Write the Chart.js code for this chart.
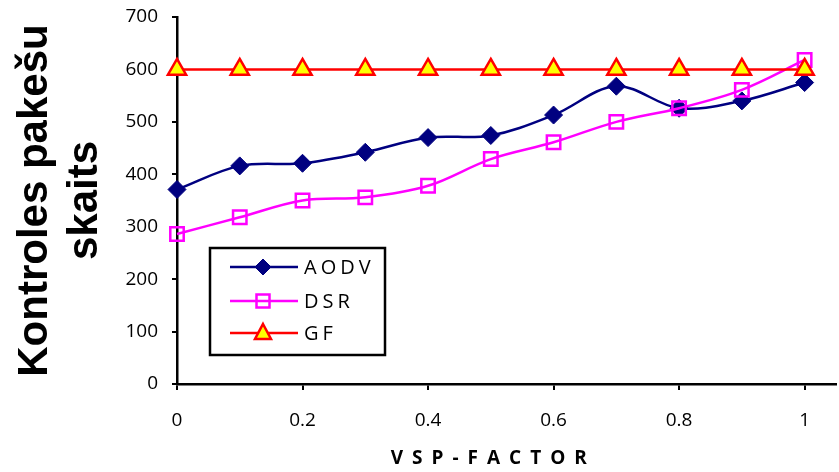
<!DOCTYPE html>
<html>
<head>
<meta charset="utf-8">
<script src="https://cdn.jsdelivr.net/npm/chart.js@4.4.1/dist/chart.umd.min.js"></script>
<style>
  html, body { margin: 0; padding: 0; background: #fff; }
  #wrap { width: 839px; height: 472px; position: relative; }
</style>
</head>
<body>
<div id="wrap"><canvas id="c" width="839" height="472"></canvas></div>
<script>
// ---- data ----
const xValues = [0, 0.1, 0.2, 0.3, 0.4, 0.5, 0.6, 0.7, 0.8, 0.9, 1];
const aodvValues = [371, 416, 421, 442, 470, 474, 513, 568, 526, 540, 575];
const dsrValues  = [286, 318, 350, 356, 378, 429, 461, 500, 526, 561, 618];
const gfValues   = [600, 600, 600, 600, 600, 600, 600, 600, 600, 600, 600];
const seriesNames = ['AODV', 'DSR', 'GF'];
const yTitleLines = ['Kontroles pakešu', 'skaits'];
const xTitleText = 'VSP-FACTOR';

function pts(vals) { return xValues.map((x, i) => ({ x: x, y: vals[i] })); }

const NAVY = '#000080', MAGENTA = '#FF00FF', RED = '#FF0000', YELLOW = '#FFFF00';
const TICK_FONT = { family: "'Open Sans', sans-serif", size: 19 };

function drawMarker(ctx, type, x, y) {
  ctx.save();
  if (type === 'diamond') {
    ctx.beginPath();
    ctx.moveTo(x, y - 8); ctx.lineTo(x + 8, y); ctx.lineTo(x, y + 8); ctx.lineTo(x - 8, y); ctx.closePath();
    ctx.fillStyle = NAVY; ctx.fill();
    ctx.strokeStyle = NAVY; ctx.lineWidth = 1; ctx.stroke();
  } else if (type === 'square') {
    ctx.strokeStyle = MAGENTA; ctx.lineWidth = 2.5;
    ctx.strokeRect(x - 6.5, y - 6.5, 13, 13);
  } else {
    ctx.beginPath();
    ctx.moveTo(x, y - 9); ctx.lineTo(x + 8, y + 6); ctx.lineTo(x - 8, y + 6); ctx.closePath();
    ctx.fillStyle = YELLOW; ctx.fill();
    ctx.strokeStyle = RED; ctx.lineWidth = 2.5; ctx.lineJoin = 'miter'; ctx.stroke();
  }
  ctx.restore();
}

function noPad(s) { s.paddingTop = 0; s.paddingBottom = 0; s.paddingLeft = 0; s.paddingRight = 0; }

const extras = {
  id: 'extras',
  afterDraw(chart) {
    const ctx = chart.ctx;
    const ca = chart.chartArea;
    const xs = chart.scales.x;
    // legend box
    const bx = ca.left + 33, by = ca.top + 231, bw = 175, bh = 107;
    ctx.save();
    ctx.fillStyle = '#fff';
    ctx.fillRect(bx, by, bw, bh);
    ctx.strokeStyle = '#000'; ctx.lineWidth = 2.5;
    ctx.strokeRect(bx, by, bw, bh);
    const markers = ['diamond', 'square', 'triangle'];
    const rowsY = [by + 19, by + 53, by + 85];
    chart.data.datasets.forEach((ds, i) => {
      const yy = rowsY[i];
      ctx.strokeStyle = ds.borderColor; ctx.lineWidth = 2.5;
      ctx.beginPath(); ctx.moveTo(bx + 20, yy); ctx.lineTo(bx + 88, yy); ctx.stroke();
      drawMarker(ctx, markers[i], bx + 53, yy);
      ctx.fillStyle = '#000';
      ctx.font = "20px 'Open Sans', sans-serif";
      ctx.textBaseline = 'middle'; ctx.textAlign = 'left';
      if ('letterSpacing' in ctx) ctx.letterSpacing = '4px';
      ctx.fillText(ds.label, bx + 94, yy + 1);
      if ('letterSpacing' in ctx) ctx.letterSpacing = '0px';
    });
    // x axis title
    ctx.font = "bold 19px 'Open Sans', sans-serif";
    const sp = 9;
    if ('letterSpacing' in ctx) ctx.letterSpacing = sp + 'px';
    const w = ctx.measureText(xTitleText).width - sp;
    const cx = (xs.getPixelForValue(0) + xs.getPixelForValue(1)) / 2 - 2;
    ctx.textAlign = 'left'; ctx.textBaseline = 'alphabetic'; ctx.fillStyle = '#000';
    ctx.fillText(xTitleText, cx - w / 2, 464);
    if ('letterSpacing' in ctx) ctx.letterSpacing = '0px';
    ctx.restore();
  }
};

new Chart(document.getElementById('c'), {
  type: 'line',
  data: {
    datasets: [
      { label: seriesNames[0], data: pts(aodvValues), borderColor: NAVY, backgroundColor: NAVY,
        borderWidth: 2.5, tension: 0.35, pointStyle: 'rectRot', pointRadius: 9,
        pointBackgroundColor: NAVY, pointBorderColor: NAVY, pointBorderWidth: 1, order: 3, clip: 20 },
      { label: seriesNames[1], data: pts(dsrValues), borderColor: MAGENTA, backgroundColor: 'rgba(0,0,0,0)',
        borderWidth: 2.5, tension: 0.35, pointStyle: 'rect', pointRadius: 9.5,
        pointBackgroundColor: 'rgba(0,0,0,0)', pointBorderColor: MAGENTA, pointBorderWidth: 2.5, order: 2, clip: 20 },
      { label: seriesNames[2], data: pts(gfValues), borderColor: RED, backgroundColor: YELLOW,
        borderWidth: 2.5, tension: 0, pointStyle: 'triangle', pointRadius: 10.5,
        pointBackgroundColor: YELLOW, pointBorderColor: RED, pointBorderWidth: 2.5, order: 1, clip: 20 }
    ]
  },
  options: {
    responsive: false,
    animation: false,
    devicePixelRatio: 1,
    layout: { autoPadding: false, padding: { top: 17, right: 3, bottom: 0, left: 0 } },
    plugins: { legend: { display: false }, tooltip: { enabled: false }, title: { display: false } },
    scales: {
      x: {
        type: 'linear', min: 0, max: 1.05,
        ticks: { stepSize: 0.2, includeBounds: false, color: '#000', font: TICK_FONT, padding: 19,
                 maxRotation: 0, autoSkip: false,
                 callback: (v) => (Math.round(v * 10) / 10).toString() },
        grid: { drawOnChartArea: false, drawTicks: true, tickLength: 6, color: '#000', lineWidth: 2 },
        border: { display: true, color: '#000', width: 2.5 },
        afterFit: (s) => { s.height = 88; noPad(s); }
      },
      y: {
        type: 'linear', min: 0, max: 700,
        ticks: { stepSize: 100, color: '#000', font: TICK_FONT, padding: 14 },
        grid: { drawOnChartArea: false, drawTicks: true, tickLength: 5, color: '#000', lineWidth: 2 },
        border: { display: true, color: '#000', width: 2.5 },
        title: { display: true, text: yTitleLines, color: '#000',
                 font: { family: "'Liberation Sans', Arial, sans-serif", size: 42, weight: 'bold', lineHeight: 1.2 },
                 padding: { top: 10, bottom: 0 } },
        afterFit: (s) => { s.width = 177; noPad(s); }
      }
    }
  },
  plugins: [extras]
});
</script>
</body>
</html>
